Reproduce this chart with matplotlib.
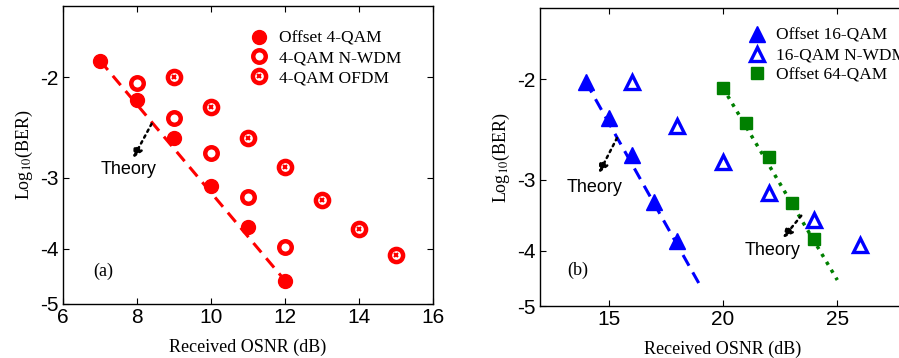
import numpy as np
import matplotlib
matplotlib.use('Agg')
import matplotlib.pyplot as plt

plt.rcParams['mathtext.fontset'] = 'stix'

# panel (a): 4-QAM
snr_off4 = [7, 8, 9, 10, 11, 12]
ber_off4 = [-1.87, -2.19, -2.56, -3.10, -3.66, -4.55]
snr_nwdm4 = [8, 9, 10, 11, 12]
ber_nwdm4 = [-2.05, -2.36, -2.72, -3.24, -3.97]
snr_ofdm4 = [9, 10, 11, 12, 13, 14, 15]
ber_ofdm4 = [-2.00, -2.26, -2.56, -2.88, -3.29, -3.69, -4.11]
theory4_x = [7, 12]
theory4_y = [-1.87, -4.55]

# panel (b): 16-QAM / 64-QAM
snr_off16 = [14, 15, 16, 17, 18]
ber_off16 = [-2.02, -2.34, -2.72, -3.28, -3.84]
snr_nwdm16 = [16, 18, 20, 22, 24, 26]
ber_nwdm16 = [-2.02, -2.41, -2.79, -3.17, -3.53, -3.90]
snr_off64 = [20, 21, 22, 23, 24]
ber_off64 = [-2.07, -2.39, -2.74, -3.29, -3.82]
theory16_x = [14, 19]
theory16_y = [-2.02, -4.60]
theory64_x = [20, 25]
theory64_y = [-2.07, -4.50]

serif = 'Liberation Serif'
sans = 'Liberation Sans'

def fwd(y):
    return -np.log10(-np.asarray(y, dtype=float))

def inv(v):
    return -10 ** (-np.asarray(v, dtype=float))

def style_axes(ax, xticks, xlim):
    ax.set_yscale('function', functions=(fwd, inv))
    ax.set_ylim(-5, -1.5)
    ax.set_yticks([-2, -3, -4, -5])
    ax.set_yticklabels(['-2', '-3', '-4', '-5'])
    ax.set_xlim(*xlim)
    ax.set_xticks(xticks)
    ax.minorticks_off()
    ax.tick_params(direction='in', top=True, right=True, labelsize=15, length=4, pad=3)
    for lab in ax.get_xticklabels() + ax.get_yticklabels():
        lab.set_fontfamily(sans)
    for s in ax.spines.values():
        s.set_linewidth(1.0)
    ax.set_xlabel('Received OSNR (dB)', fontfamily=serif, fontsize=13, labelpad=8)
    ax.set_ylabel(r'Log$_{10}$(BER)', fontfamily=serif, fontsize=13, labelpad=4)

fig = plt.figure(figsize=(8.99, 3.58), dpi=100)
ax1 = fig.add_axes([0.0701, 0.151, 0.4116, 0.832])
ax2 = fig.add_axes([0.6007, 0.145, 0.407, 0.832])

red = '#ff0000'
# (a)
ax1.plot(theory4_x, theory4_y, '--', color=red, lw=2.2, dashes=(4, 2.5))
h1, = ax1.plot(snr_off4, ber_off4, 'o', color=red, ms=10, ls='none')
h2, = ax1.plot(snr_nwdm4, ber_nwdm4, 'o', mfc='white', mec=red, mew=3.2, ms=9, ls='none')
h3a, = ax1.plot(snr_ofdm4, ber_ofdm4, 'o', mfc='white', mec=red, mew=3.2, ms=9.5, ls='none')
h3b, = ax1.plot(snr_ofdm4, ber_ofdm4, 'x', color=red, mew=1.5, ms=3.5, ls='none')
ax1.annotate('', xy=(7.86, -2.80), xytext=(8.43, -2.39),
             arrowprops=dict(arrowstyle='-|>', color='black', lw=1.8, ls=':', mutation_scale=14))
ax1.text(7.76, -2.90, 'Theory', fontfamily=sans, fontsize=13, ha='center', va='center')
ax1.text(7.1, -4.38, '(a)', fontfamily=serif, fontsize=13, ha='center', va='center')
style_axes(ax1, [6, 8, 10, 12, 14, 16], (6, 16))
leg1 = ax1.legend([h1, h2, (h3a, h3b)], ['Offset 4-QAM', '4-QAM N-WDM', '4-QAM OFDM'],
                  loc='upper right', bbox_to_anchor=(0.946, 0.958), frameon=False,
                  prop={'family': serif, 'size': 12.5}, handlelength=1.0,
                  handletextpad=0.6, labelspacing=0.2, borderaxespad=0.3)

# (b)
blue = '#0000ff'
green = '#008000'
ax2.plot(theory16_x, theory16_y, '--', color=blue, lw=2.2, dashes=(4, 2.5))
ax2.plot(theory64_x, theory64_y, ':', color=green, lw=2.5)
g1, = ax2.plot(snr_off16, ber_off16, '^', color=blue, ms=11, ls='none')
g2, = ax2.plot(snr_nwdm16, ber_nwdm16, '^', mfc='white', mec=blue, mew=2.4, ms=10, ls='none')
g3, = ax2.plot(snr_off64, ber_off64, 's', color=green, ms=9, ls='none')
ax2.annotate('', xy=(14.52, -2.95), xytext=(15.42, -2.51),
             arrowprops=dict(arrowstyle='-|>', color='black', lw=1.8, ls=':', mutation_scale=14))
ax2.text(14.4, -3.09, 'Theory', fontfamily=sans, fontsize=13, ha='center', va='center')
ax2.annotate('', xy=(22.55, -3.83), xytext=(23.5, -3.44),
             arrowprops=dict(arrowstyle='-|>', color='black', lw=1.8, ls=':', mutation_scale=14))
ax2.text(22.19, -4.0, 'Theory', fontfamily=sans, fontsize=13, ha='center', va='center')
ax2.text(13.65, -4.33, '(b)', fontfamily=serif, fontsize=13, ha='center', va='center')
style_axes(ax2, [15, 20, 25], (12, 28))
leg2 = ax2.legend([g1, g2, g3], ['Offset 16-QAM', '16-QAM N-WDM', 'Offset 64-QAM'],
                  loc='upper left', bbox_to_anchor=(0.536, 0.975), frameon=False,
                  prop={'family': serif, 'size': 12.5}, handlelength=1.0,
                  handletextpad=0.6, labelspacing=0.2, borderaxespad=0.3)

fig.savefig('out.png', dpi=100)
